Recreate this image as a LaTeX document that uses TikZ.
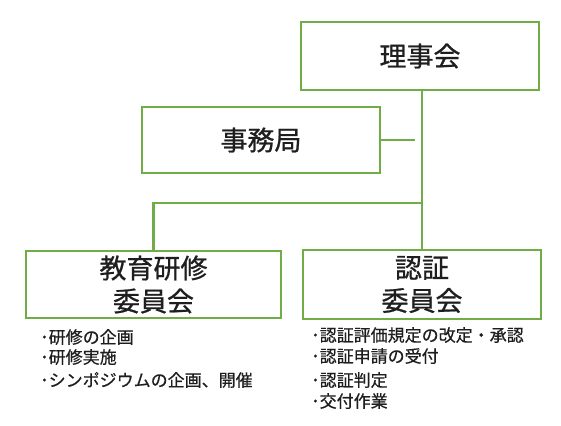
\documentclass[tikz,border=0pt]{standalone}
\usepackage{fontspec}
\setmainfont{Noto Sans CJK JP}
\newfontfamily\jptitle{Noto Sans CJK JP}[FakeBold=0.8]
\newfontfamily\jplist{Noto Sans CJK JP}[FakeBold=0.6]
\definecolor{boxgreen}{RGB}{112,173,71}
\definecolor{txtgray}{RGB}{30,30,30}
\tikzset{
  orgbox/.style={draw=boxgreen, line width=2.7pt, fill=white, inner sep=0pt,
    align=center, text=txtgray, font=\jptitle\fontsize{27}{33}\selectfont},
  conn/.style={draw=boxgreen, line width=2.2pt},
  item/.style={anchor=base west, inner sep=0pt, text=txtgray, font=\jplist\fontsize{17}{20}\selectfont}
}
\begin{document}
\begin{tikzpicture}[x=1pt,y=-1pt]
\useasboundingbox (0,0) rectangle (561,425);
\node[orgbox, minimum width=238pt, minimum height=68pt] (riji) at (420,56) {理事会};
\node[orgbox, minimum width=238pt, minimum height=66pt] (jimu) at (261,140) {事務局};
\node[orgbox, minimum width=255pt, minimum height=67pt] (kyoiku) at (153.5,284.5) {教育研修\\委員会};
\node[orgbox, minimum width=238pt, minimum height=69pt] (nin) at (422,284.5) {認証\\委員会};
\coordinate (jgap) at (415,140);
\coordinate (junc) at (422,203);
\draw[conn] (nin.north |- riji.south) -- (nin.north);
\draw[conn] (jimu.east) -- (jgap);
\draw[conn] (kyoiku.north) |- (junc);
% lists
\node[item] (k1) at (40,343.5) {･研修の企画};
\node[item] (k2) at (40,363.5) {･研修実施};
\node[item] (k3) at (40,386.5) {･シンポジウムの企画、開催};
\node[item] (n1) at (311,341.5) {･認証評価規定の改定・承認};
\node[item] (n2) at (311,362.5) {･認証申請の受付};
\node[item] (n3) at (311,386.5) {･認証判定};
\node[item] (n4) at (311,407.5) {･交付作業};
\end{tikzpicture}
\end{document}
